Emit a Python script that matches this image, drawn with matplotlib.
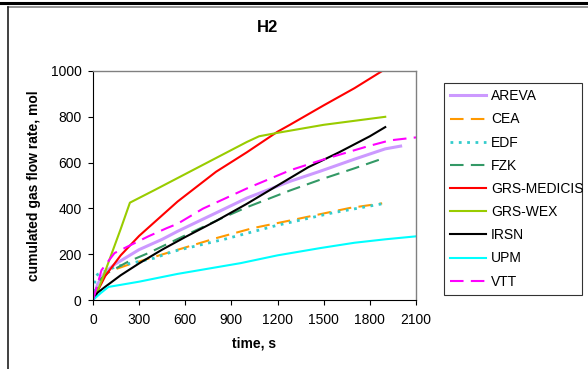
import matplotlib
matplotlib.use("Agg")
import matplotlib.pyplot as plt
from matplotlib.lines import Line2D

plt.rcParams['font.family'] = ['Liberation Sans', 'DejaVu Sans']

# ---- data (time s, cumulated H2 mol) ----
areva_t = [0, 30, 76, 140, 300, 450, 550, 830, 1000, 1280, 1480, 1700, 1900, 2000]
areva_v = [0, 70, 120, 155, 220, 265, 300, 390, 445, 518, 563, 615, 660, 672]

cea_t = [0, 40, 100, 230, 480, 800, 1040, 1280, 1500, 1670, 1880]
cea_v = [0, 80, 124, 154, 205, 270, 314, 347, 378, 402, 422]

edf_t = [0, 15, 30, 150, 400, 520, 870, 1190, 1560, 1880]
edf_v = [0, 100, 112, 146, 183, 212, 268, 325, 381, 420]

fzk_t = [0, 40, 100, 230, 360, 630, 830, 1000, 1280, 1480, 1700, 1880]
fzk_v = [0, 85, 120, 168, 205, 292, 355, 405, 478, 526, 575, 617]

medicis_t = [0, 80, 180, 300, 450, 550, 800, 1000, 1200, 1280, 1500, 1700, 1880]
medicis_v = [0, 105, 195, 280, 370, 430, 560, 645, 735, 765, 850, 925, 1000]

wex_t = [0, 30, 60, 120, 180, 240, 400, 600, 800, 1000, 1080, 1200, 1500, 1900]
wex_v = [0, 40, 90, 200, 310, 425, 480, 550, 620, 690, 715, 730, 765, 800]

irsn_t = [0, 30, 80, 180, 300, 450, 600, 800, 1000, 1200, 1400, 1600, 1800, 1900]
irsn_v = [0, 32, 58, 108, 160, 220, 275, 345, 420, 500, 580, 645, 715, 755]

upm_t = [0, 50, 100, 300, 550, 960, 1200, 1480, 1700, 1900, 2100]
upm_v = [0, 30, 57, 80, 114, 161, 195, 227, 250, 265, 278]

vtt_t = [0, 30, 55, 140, 230, 360, 480, 550, 715, 1000, 1280, 1500, 1630, 1780, 1930, 2100]
vtt_v = [0, 70, 130, 205, 235, 278, 314, 333, 399, 487, 566, 614, 640, 670, 697, 710]

x_ticks = [0, 300, 600, 900, 1200, 1500, 1800, 2100]
y_ticks = [0, 200, 400, 600, 800, 1000]

series = [
    ("AREVA", areva_t, areva_v, "#CC99FF", "-", 2.2),
    ("CEA", cea_t, cea_v, "#FF9900", (0, (6.5, 3.5)), 1.5),
    ("EDF", edf_t, edf_v, "#33CCCC", (0, (1.0, 2.0)), 2.0),
    ("FZK", fzk_t, fzk_v, "#339966", (0, (6.5, 3.5)), 1.5),
    ("GRS-MEDICIS", medicis_t, medicis_v, "#FF0000", "-", 1.5),
    ("GRS-WEX", wex_t, wex_v, "#99CC00", "-", 1.5),
    ("IRSN", irsn_t, irsn_v, "#000000", "-", 1.5),
    ("UPM", upm_t, upm_v, "#00FFFF", "-", 1.5),
    ("VTT", vtt_t, vtt_v, "#FF00FF", (0, (6.5, 3.5)), 1.5),
]

W, H = 588, 369
fig = plt.figure(figsize=(W / 100, H / 100), dpi=100)
ax = fig.add_axes([93 / W, 1 - 300 / H, (416 - 93) / W, (300 - 71) / H])

for name, t, v, c, ls, lw in series:
    ax.plot(t, v, color=c, linestyle=ls, linewidth=lw, label=name)

ax.set_xlim(0, 2100)
ax.set_ylim(0, 1000)
ax.set_xticks(x_ticks)
ax.set_yticks(y_ticks)
ax.tick_params(direction='out', length=3.6, width=0.8, labelsize=10, colors='black')
ax.tick_params(axis='x', pad=5.5)
ax.tick_params(axis='y', pad=4.5)
for s in ['top', 'right']:
    ax.spines[s].set_color('#808080')
    ax.spines[s].set_linewidth(1.0)
for s in ['left', 'bottom']:
    ax.spines[s].set_color('#000000')
    ax.spines[s].set_linewidth(0.8)

ax.set_xlabel("time, s", fontsize=10, fontweight='bold', labelpad=7)
ax.set_ylabel("cumulated gas flow rate, mol", fontsize=10, fontweight='bold', labelpad=7)

fig.text(267 / W, 1 - 28 / H, "H2", fontsize=12, fontweight='bold', ha='center', va='center')

leg = ax.legend(loc='upper left', bbox_to_anchor=(444 / W, 1 - 288 / H, (582 - 444) / W, 205 / H),
                bbox_transform=fig.transFigure, mode='expand', fontsize=10, frameon=True,
                fancybox=False, shadow=False, handlelength=2.6, labelspacing=0.66,
                borderpad=0.45, handletextpad=0.35, borderaxespad=0)
leg.get_frame().set_edgecolor('black')
leg.get_frame().set_linewidth(0.8)

# frame decorations
fig.add_artist(Line2D([0, 1], [1 - 2.5 / H, 1 - 2.5 / H], color='black', linewidth=2.2, transform=fig.transFigure))
fig.add_artist(Line2D([7.5 / W, 1], [1 - 6.5 / H, 1 - 6.5 / H], color='#808080', linewidth=1.2, transform=fig.transFigure))
fig.add_artist(Line2D([7.5 / W, 7.5 / W], [0, 1 - 6.5 / H], color='#202020', linewidth=1.2, transform=fig.transFigure))

fig.savefig("out.png", dpi=100)
